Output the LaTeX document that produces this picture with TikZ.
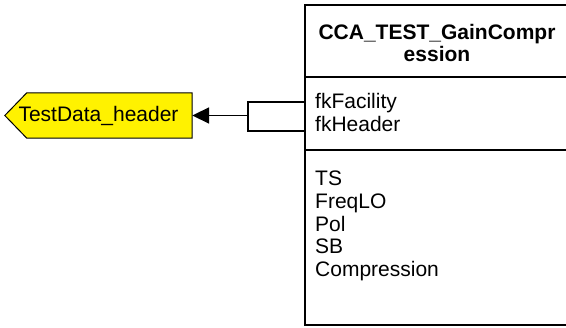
\documentclass[tikz,border=0pt]{standalone}
\usepackage{fontspec}
\setmainfont{Liberation Sans}
\usetikzlibrary{arrows.meta}
\begin{document}
\begin{tikzpicture}[x=1pt,y=-1pt,
  txt/.style={font=\fontsize{21}{23}\selectfont, inner sep=0pt},
  field/.style={txt, anchor=base west},
  heavy/.style={line width=2pt},
  thin/.style={line width=1.1pt},
  conn/.style={line width=1.8pt}]
\useasboundingbox (0,0) rectangle (566,328);
% yellow entity reference
\node[txt, minimum width=187, minimum height=45] (hdr) at (98.5,115.5) {};
\filldraw[fill=yellow, draw=black, line width=1pt]
  (hdr.north east) -- (hdr.south east) -- ([xshift=22]hdr.south west)
  -- (hdr.west) -- ([xshift=22]hdr.north west) -- cycle;
\node[txt] (hdrtext) at (hdr.center) {TestData\_header};
% table
\draw[thin] (305,77) -- (305,325) -- (575,325);
\draw[thin] (305,150) -- (575,150);
\draw[heavy] (575,5) -- (305,5) -- (305,77) -- (575,77);
\node[txt, anchor=base] (t1) at (437,40) {\textbf{CCA\_TEST\_GainCompr}};
\node[txt, anchor=base] (t2) at (437,62) {\textbf{ession}};
\node[field] (fa) at (315,109) {fkFacility};
\node[field] (fb) at (315,132) {fkHeader};
\node[field] (c1) at (315,186) {TS};
\node[field] (c2) at (315,209) {FreqLO};
\node[field] (c3) at (315,232) {Pol};
\node[field] (c4) at (315,254) {SB};
\node[field] (c5) at (315,277) {Compression};
% connector
\coordinate (k1) at (305,102);
\coordinate (k2) at (305,131);
\coordinate (j) at (248,115.5);
\draw[conn] (k1) -| (j) |- (k2);
\draw[conn, -{Triangle[length=17pt,width=16pt]}] (j) -- (hdr.east);
\end{tikzpicture}
\end{document}
